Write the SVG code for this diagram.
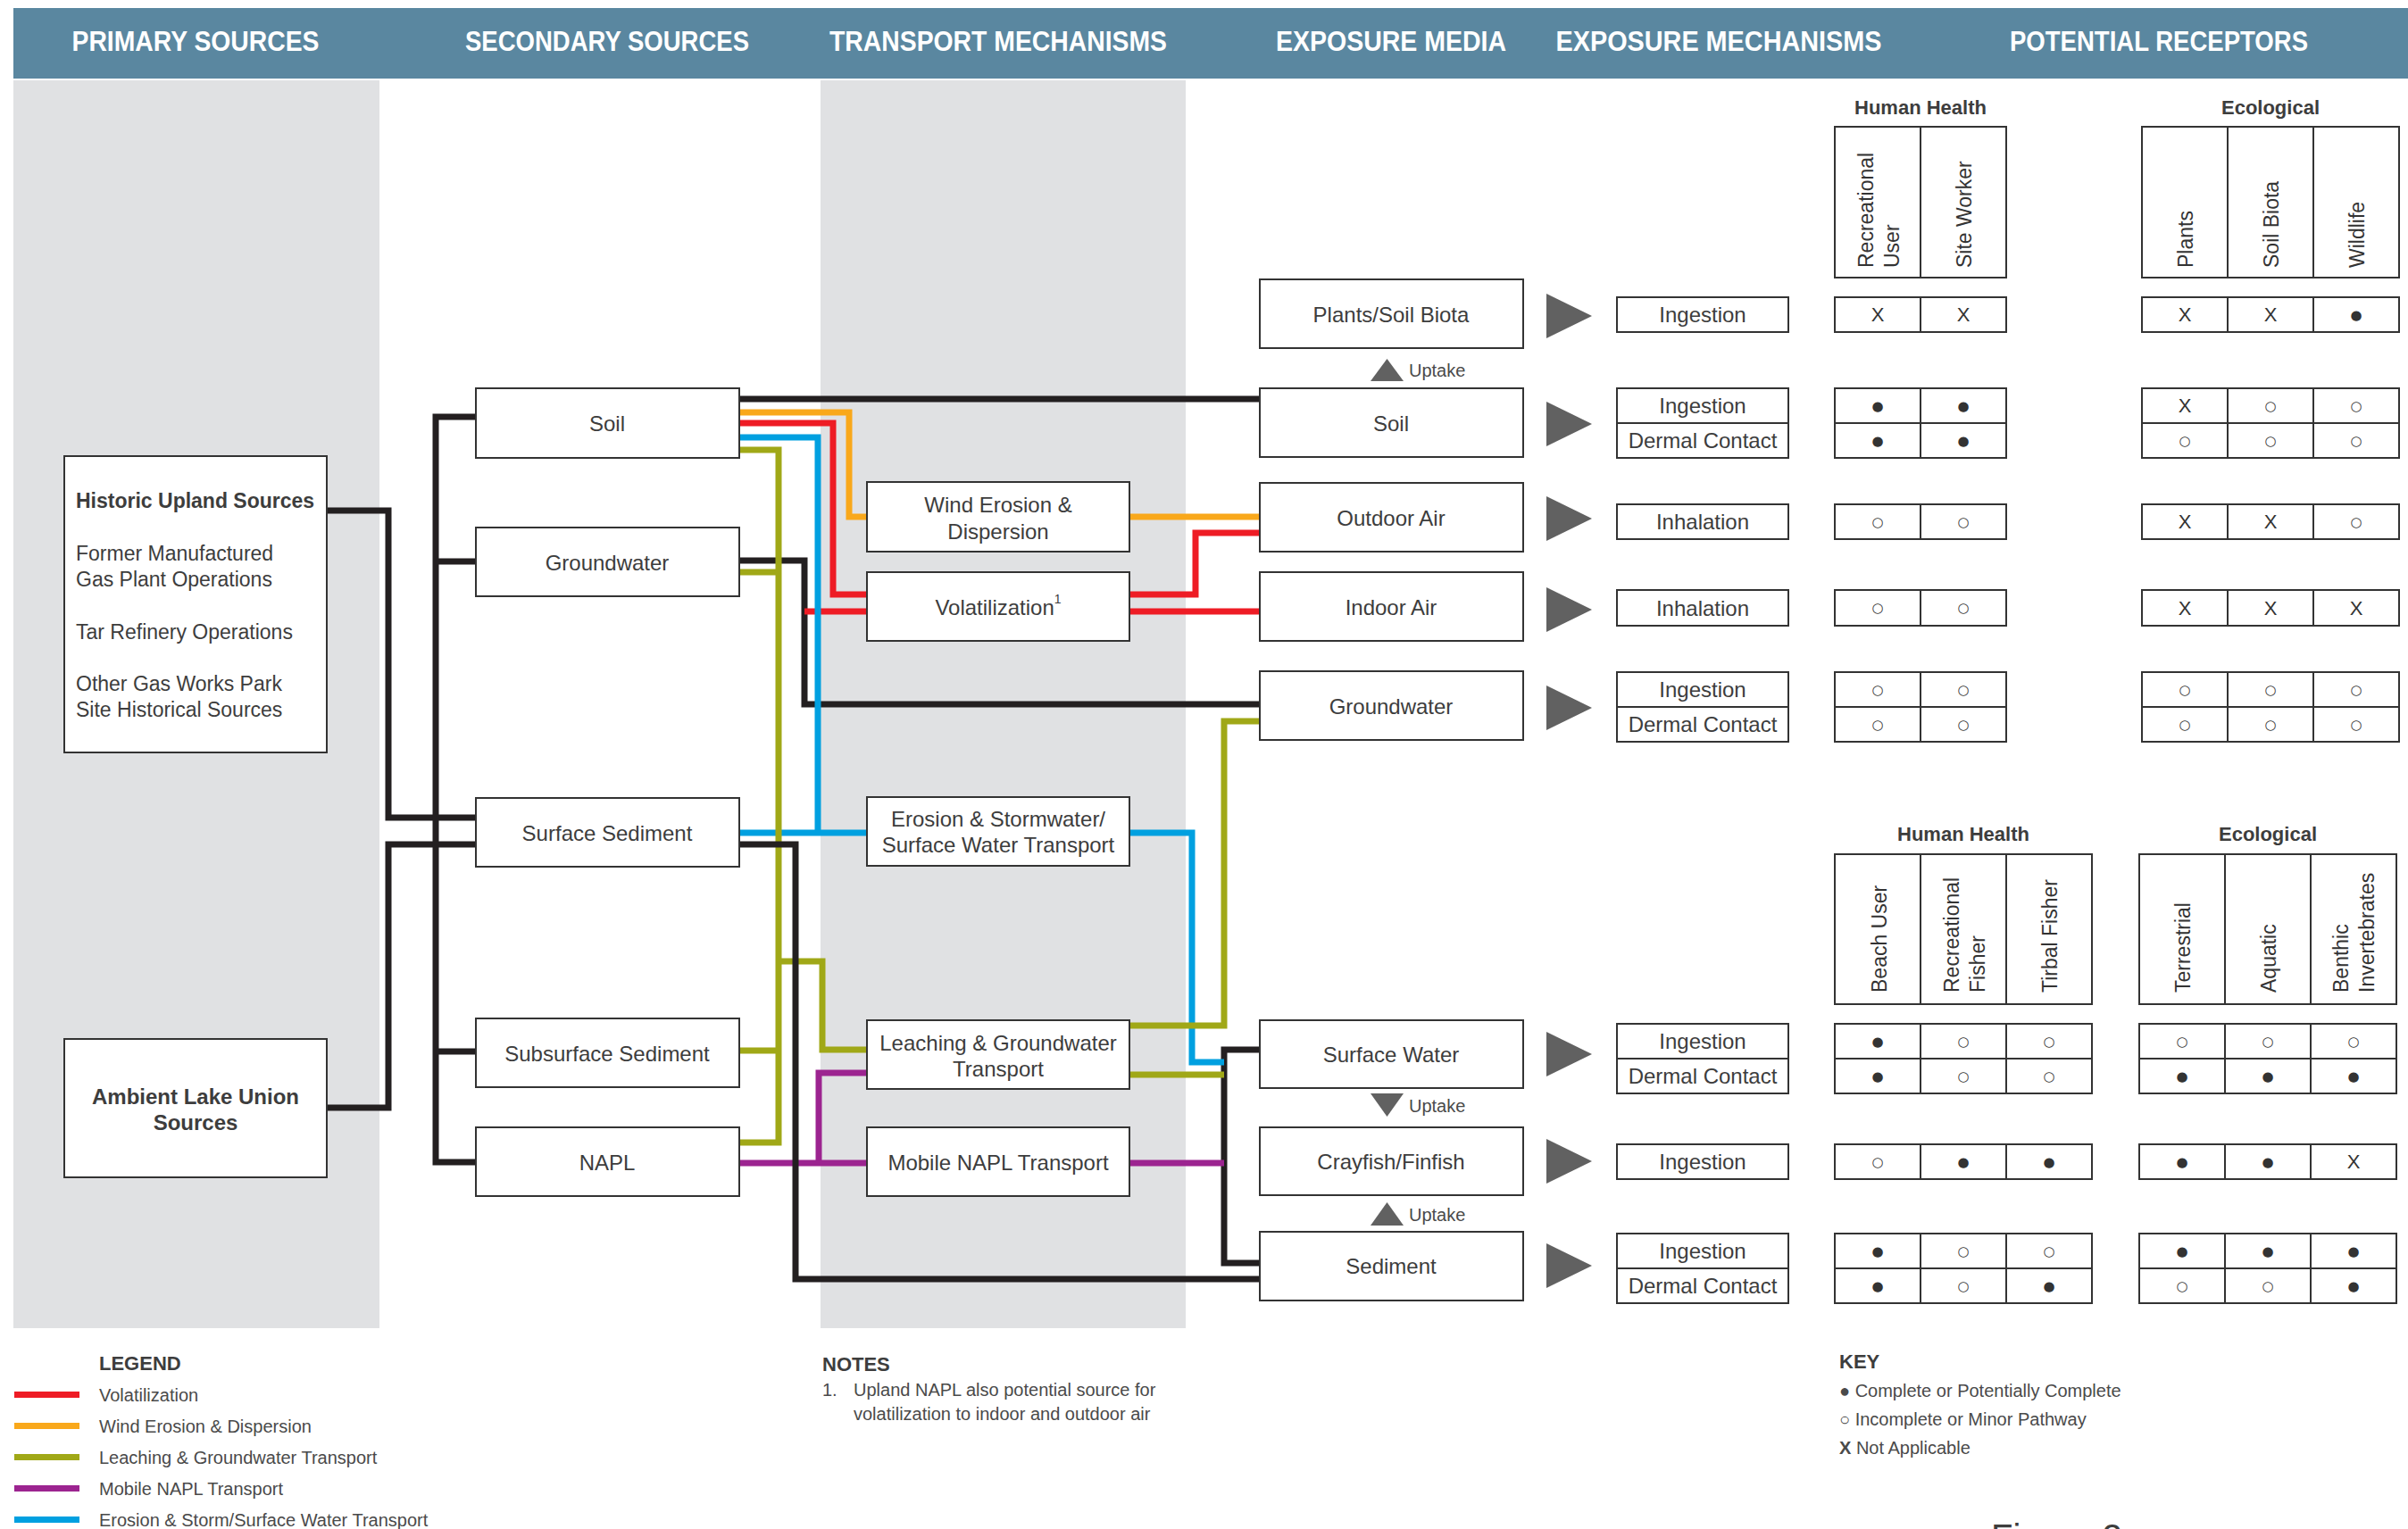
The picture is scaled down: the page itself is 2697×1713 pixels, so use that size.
<svg xmlns="http://www.w3.org/2000/svg" width="2697" height="1713" viewBox="0 0 2697 1713">
<style>
.hdr{fill:#fff;font-family:"Liberation Sans",Arial,sans-serif;font-weight:bold;font-size:32px;text-anchor:middle;dominant-baseline:central}
.box{fill:#fff;stroke:#333;stroke-width:2}
.ln{stroke:#333;stroke-width:2;fill:none}
.t{font-family:"Liberation Sans",Arial,sans-serif;fill:#3d3d3d;font-size:24px;text-anchor:middle;dominant-baseline:central}
.tl{font-family:"Liberation Sans",Arial,sans-serif;fill:#3d3d3d;font-size:23px;dominant-baseline:central}
.b{font-weight:bold}
.rot{font-family:"Liberation Sans",Arial,sans-serif;fill:#333;font-size:23px;dominant-baseline:central}
.mk{font-family:"DejaVu Sans","Liberation Sans",sans-serif;fill:#333;font-size:15px;text-anchor:middle;dominant-baseline:central}
.mx{font-family:"Liberation Sans",Arial,sans-serif;fill:#333;font-size:22px;text-anchor:middle;dominant-baseline:central}
.ttl{font-family:"Liberation Sans",Arial,sans-serif;fill:#3d3d3d;font-size:22px;font-weight:bold;text-anchor:middle;dominant-baseline:central}
.lg{font-family:"Liberation Sans",Arial,sans-serif;fill:#4a4a4a;font-size:20px;dominant-baseline:central}
.lgh{font-family:"Liberation Sans",Arial,sans-serif;fill:#3d3d3d;font-size:22px;font-weight:bold;dominant-baseline:central}
.tri{fill:#616161}
.c{fill:none;stroke-width:7;stroke-linejoin:miter;stroke-linecap:butt}
.k{stroke:#231f20}.r{stroke:#ee1c25}.o{stroke:#f9a81b}.g{stroke:#a0a817}.p{stroke:#9c2490}.bl{stroke:#00a0e0}
</style>
<defs>
<path id="arr" d="M0,-25 L51,0 L0,25 Z" fill="#616161"/>
</defs>
<rect width="2697" height="1713" fill="#fff"/>
<!-- header -->
<rect x="15" y="9" width="2682" height="79" fill="#5a87a0"/>
<text class="hdr" x="219" y="46" textLength="277" lengthAdjust="spacingAndGlyphs">PRIMARY SOURCES</text>
<text class="hdr" x="680" y="46" textLength="318" lengthAdjust="spacingAndGlyphs">SECONDARY SOURCES</text>
<text class="hdr" x="1118" y="46" textLength="378" lengthAdjust="spacingAndGlyphs">TRANSPORT MECHANISMS</text>
<text class="hdr" x="1558" y="46" textLength="258" lengthAdjust="spacingAndGlyphs">EXPOSURE MEDIA</text>
<text class="hdr" x="1925" y="46" textLength="365" lengthAdjust="spacingAndGlyphs">EXPOSURE MECHANISMS</text>
<text class="hdr" x="2418" y="46" textLength="334" lengthAdjust="spacingAndGlyphs">POTENTIAL RECEPTORS</text>
<!-- grey columns -->
<rect x="15" y="90" width="410" height="1398" fill="#e0e1e3"/>
<rect x="919" y="90" width="409" height="1398" fill="#e0e1e3"/>

<g id="connectors">
<path class="c k" d="M366,572 H435 V916 H533"/>
<path class="c k" d="M366,1241 H435 V946 H533"/>
<path class="c k" d="M533,467 H488 V1302 H533 M488,629 H533 M488,1178 H533"/>
<path class="c k" d="M828,447 H1411"/>
<path class="c k" d="M828,628 H901 V789 H1411"/>
<path class="c k" d="M1411,1176 H1371 V1415 H1411"/>
<path class="c r" d="M828,474 H933 V666 H971 M901,685 H971 M1265,666 H1339 V597 H1411 M1265,685 H1411"/>
<path class="c o" d="M828,462 H951 V579 H971 M1265,579 H1411"/>
<path class="c bl" d="M828,490 H916 V933 M828,933 H971 M1265,933 H1335 V1190 H1371"/>
<path class="c p" d="M828,1303 H971 M917,1303 V1202 H971 M1265,1303 H1371"/>
<path class="c g" d="M828,504 H872 V1280 H828 M828,641 H872 M828,1177 H872 M872,1077 H921 V1176 H971 M1265,1149 H1371 V808 H1411 M1265,1204 H1371"/>
<path class="c k" d="M828,946 H891 V1433 H1411"/>
</g>

<g id="historic-upland-sources">
<rect class="box" x="72" y="511" width="294" height="332"/>
<text class="tl b" x="85" y="561">Historic Upland Sources</text>
<text class="tl" x="85" y="620">Former Manufactured</text>
<text class="tl" x="85" y="649">Gas Plant Operations</text>
<text class="tl" x="85" y="708">Tar Refinery Operations</text>
<text class="tl" x="85" y="766">Other Gas Works Park</text>
<text class="tl" x="85" y="795">Site Historical Sources</text>
</g>
<g id="ambient-lake-union-sources">
<rect class="box" x="72" y="1164" width="294" height="155"/>
<text class="t b" x="219" y="1228">Ambient Lake Union</text>
<text class="t b" x="219" y="1257">Sources</text>
</g>

<g id="sec-soil"><rect class="box" x="533" y="435" width="295" height="78"/><text class="t" x="680" y="474">Soil</text></g>
<g id="sec-groundwater"><rect class="box" x="533" y="591" width="295" height="77"/><text class="t" x="680" y="630">Groundwater</text></g>
<g id="sec-surface-sediment"><rect class="box" x="533" y="894" width="295" height="77"/><text class="t" x="680" y="933">Surface Sediment</text></g>
<g id="sec-subsurface-sediment"><rect class="box" x="533" y="1141" width="295" height="77"/><text class="t" x="680" y="1180">Subsurface Sediment</text></g>
<g id="sec-napl"><rect class="box" x="533" y="1263" width="295" height="77"/><text class="t" x="680" y="1302">NAPL</text></g>

<g id="tr-wind"><rect class="box" x="971" y="540" width="294" height="78"/><text class="t" x="1118" y="565">Wind Erosion &amp;</text><text class="t" x="1118" y="595">Dispersion</text></g>
<g id="tr-volatilization"><rect class="box" x="971" y="641" width="294" height="77"/><text class="t" x="1118" y="680">Volatilization<tspan font-size="14" dy="-9">1</tspan></text></g>
<g id="tr-erosion"><rect class="box" x="971" y="893" width="294" height="77"/><text class="t" x="1118" y="917">Erosion &amp; Stormwater/</text><text class="t" x="1118" y="946">Surface Water Transport</text></g>
<g id="tr-leaching"><rect class="box" x="971" y="1143" width="294" height="77"/><text class="t" x="1118" y="1168">Leaching &amp; Groundwater</text><text class="t" x="1118" y="1197">Transport</text></g>
<g id="tr-mobile-napl"><rect class="box" x="971" y="1263" width="294" height="77"/><text class="t" x="1118" y="1302">Mobile NAPL Transport</text></g>

<g id="em-plants"><rect class="box" x="1411" y="313" width="295" height="77"/><text class="t" x="1558" y="352">Plants/Soil Biota</text></g>
<g id="em-soil"><rect class="box" x="1411" y="435" width="295" height="77"/><text class="t" x="1558" y="474">Soil</text></g>
<g id="em-outdoor-air"><rect class="box" x="1411" y="541" width="295" height="77"/><text class="t" x="1558" y="580">Outdoor Air</text></g>
<g id="em-indoor-air"><rect class="box" x="1411" y="641" width="295" height="77"/><text class="t" x="1558" y="680">Indoor Air</text></g>
<g id="em-groundwater"><rect class="box" x="1411" y="752" width="295" height="77"/><text class="t" x="1558" y="791">Groundwater</text></g>
<g id="em-surface-water"><rect class="box" x="1411" y="1143" width="295" height="76"/><text class="t" x="1558" y="1181">Surface Water</text></g>
<g id="em-crayfish"><rect class="box" x="1411" y="1263" width="295" height="76"/><text class="t" x="1558" y="1301">Crayfish/Finfish</text></g>
<g id="em-sediment"><rect class="box" x="1411" y="1380" width="295" height="77"/><text class="t" x="1558" y="1418">Sediment</text></g>

<g id="uptake">
<path class="tri" d="M1535,427 L1572,427 L1553.5,402 Z"/><text class="lg" x="1578" y="415">Uptake</text>
<path class="tri" d="M1535,1225 L1572,1225 L1553.5,1251 Z"/><text class="lg" x="1578" y="1239">Uptake</text>
<path class="tri" d="M1535,1373 L1572,1373 L1553.5,1347 Z"/><text class="lg" x="1578" y="1361">Uptake</text>
</g>

<g id="arrows">
<use href="#arr" x="1732" y="354"/>
<use href="#arr" x="1732" y="475"/>
<use href="#arr" x="1732" y="581"/>
<use href="#arr" x="1732" y="683"/>
<use href="#arr" x="1732" y="793"/>
<use href="#arr" x="1732" y="1181"/>
<use href="#arr" x="1732" y="1301"/>
<use href="#arr" x="1732" y="1418"/>
</g>

<g id="exposure-mechanisms">
<rect class="box" x="1811" y="333" width="192" height="39"/><text class="t" x="1907" y="352.5">Ingestion</text>
<rect class="box" x="1811" y="435" width="192" height="78"/><path class="ln" d="M1811,474 H2003"/><text class="t" x="1907" y="454.5">Ingestion</text><text class="t" x="1907" y="493.5">Dermal Contact</text>
<rect class="box" x="1811" y="565" width="192" height="39"/><text class="t" x="1907" y="584.5">Inhalation</text>
<rect class="box" x="1811" y="661" width="192" height="40"/><text class="t" x="1907" y="681">Inhalation</text>
<rect class="box" x="1811" y="753" width="192" height="78"/><path class="ln" d="M1811,792 H2003"/><text class="t" x="1907" y="772.5">Ingestion</text><text class="t" x="1907" y="811.5">Dermal Contact</text>
<rect class="box" x="1811" y="1147" width="192" height="78"/><path class="ln" d="M1811,1186 H2003"/><text class="t" x="1907" y="1166.5">Ingestion</text><text class="t" x="1907" y="1205.5">Dermal Contact</text>
<rect class="box" x="1811" y="1282" width="192" height="39"/><text class="t" x="1907" y="1301.5">Ingestion</text>
<rect class="box" x="1811" y="1382" width="192" height="78"/><path class="ln" d="M1811,1421 H2003"/><text class="t" x="1907" y="1401.5">Ingestion</text><text class="t" x="1907" y="1440.5">Dermal Contact</text>
</g>

<g id="receptors-upper">
<text class="ttl" x="2151" y="120">Human Health</text>
<text class="ttl" x="2543" y="120">Ecological</text>
<rect class="box" x="2055" y="142" width="192" height="169"/><path class="ln" d="M2151,142 V311"/>
<rect class="box" x="2399" y="142" width="288" height="169"/><path class="ln" d="M2495,142 V311 M2591,142 V311"/>
<text class="rot" transform="translate(2090,300) rotate(-90)">Recreational</text>
<text class="rot" transform="translate(2119,300) rotate(-90)">User</text>
<text class="rot" transform="translate(2200,300) rotate(-90)">Site Worker</text>
<text class="rot" transform="translate(2448,300) rotate(-90)">Plants</text>
<text class="rot" transform="translate(2544,300) rotate(-90)">Soil Biota</text>
<text class="rot" transform="translate(2640,300) rotate(-90)">Wildlife</text>
<!-- grids -->
<path class="ln" d="M2055,333 H2247 V372 H2055 Z M2151,333 V372"/>
<path class="ln" d="M2399,333 H2687 V372 H2399 Z M2495,333 V372 M2591,333 V372"/>
<path class="ln" d="M2055,435 H2247 V513 H2055 Z M2151,435 V513 M2055,474 H2247"/>
<path class="ln" d="M2399,435 H2687 V513 H2399 Z M2495,435 V513 M2591,435 V513 M2399,474 H2687"/>
<path class="ln" d="M2055,565 H2247 V604 H2055 Z M2151,565 V604"/>
<path class="ln" d="M2399,565 H2687 V604 H2399 Z M2495,565 V604 M2591,565 V604"/>
<path class="ln" d="M2055,661 H2247 V701 H2055 Z M2151,661 V701"/>
<path class="ln" d="M2399,661 H2687 V701 H2399 Z M2495,661 V701 M2591,661 V701"/>
<path class="ln" d="M2055,753 H2247 V831 H2055 Z M2151,753 V831 M2055,792 H2247"/>
<path class="ln" d="M2399,753 H2687 V831 H2399 Z M2495,753 V831 M2591,753 V831 M2399,792 H2687"/>
<!-- row 1 -->
<text class="mx" x="2103" y="352.5">X</text><text class="mx" x="2199" y="352.5">X</text>
<text class="mx" x="2447" y="352.5">X</text><text class="mx" x="2543" y="352.5">X</text><text class="mk" x="2639" y="352.5">●</text>
<!-- row 2 -->
<text class="mk" x="2103" y="454.5">●</text><text class="mk" x="2199" y="454.5">●</text>
<text class="mx" x="2447" y="454.5">X</text><text class="mk" x="2543" y="454.5">○</text><text class="mk" x="2639" y="454.5">○</text>
<text class="mk" x="2103" y="493.5">●</text><text class="mk" x="2199" y="493.5">●</text>
<text class="mk" x="2447" y="493.5">○</text><text class="mk" x="2543" y="493.5">○</text><text class="mk" x="2639" y="493.5">○</text>
<!-- row 3 -->
<text class="mk" x="2103" y="584.5">○</text><text class="mk" x="2199" y="584.5">○</text>
<text class="mx" x="2447" y="584.5">X</text><text class="mx" x="2543" y="584.5">X</text><text class="mk" x="2639" y="584.5">○</text>
<!-- row 4 -->
<text class="mk" x="2103" y="681">○</text><text class="mk" x="2199" y="681">○</text>
<text class="mx" x="2447" y="681">X</text><text class="mx" x="2543" y="681">X</text><text class="mx" x="2639" y="681">X</text>
<!-- row 5 -->
<text class="mk" x="2103" y="772.5">○</text><text class="mk" x="2199" y="772.5">○</text>
<text class="mk" x="2447" y="772.5">○</text><text class="mk" x="2543" y="772.5">○</text><text class="mk" x="2639" y="772.5">○</text>
<text class="mk" x="2103" y="811.5">○</text><text class="mk" x="2199" y="811.5">○</text>
<text class="mk" x="2447" y="811.5">○</text><text class="mk" x="2543" y="811.5">○</text><text class="mk" x="2639" y="811.5">○</text>
</g>

<g id="receptors-lower">
<text class="ttl" x="2199" y="934">Human Health</text>
<text class="ttl" x="2540" y="934">Ecological</text>
<rect class="box" x="2055" y="957" width="288" height="168"/><path class="ln" d="M2151,957 V1125 M2247,957 V1125"/>
<rect class="box" x="2396" y="957" width="288" height="168"/><path class="ln" d="M2492,957 V1125 M2588,957 V1125"/>
<text class="rot" transform="translate(2105,1112) rotate(-90)">Beach User</text>
<text class="rot" transform="translate(2186,1112) rotate(-90)">Recreational</text>
<text class="rot" transform="translate(2215,1112) rotate(-90)">Fisher</text>
<text class="rot" transform="translate(2296,1112) rotate(-90)">Tirbal Fisher</text>
<text class="rot" transform="translate(2445,1112) rotate(-90)">Terrestrial</text>
<text class="rot" transform="translate(2541,1112) rotate(-90)">Aquatic</text>
<text class="rot" transform="translate(2622,1112) rotate(-90)">Benthic</text>
<text class="rot" transform="translate(2651,1112) rotate(-90)">Invertebrates</text>
<path class="ln" d="M2055,1147 H2343 V1225 H2055 Z M2151,1147 V1225 M2247,1147 V1225 M2055,1186 H2343"/>
<path class="ln" d="M2396,1147 H2684 V1225 H2396 Z M2492,1147 V1225 M2588,1147 V1225 M2396,1186 H2684"/>
<path class="ln" d="M2055,1282 H2343 V1321 H2055 Z M2151,1282 V1321 M2247,1282 V1321"/>
<path class="ln" d="M2396,1282 H2684 V1321 H2396 Z M2492,1282 V1321 M2588,1282 V1321"/>
<path class="ln" d="M2055,1382 H2343 V1460 H2055 Z M2151,1382 V1460 M2247,1382 V1460 M2055,1421 H2343"/>
<path class="ln" d="M2396,1382 H2684 V1460 H2396 Z M2492,1382 V1460 M2588,1382 V1460 M2396,1421 H2684"/>
<!-- SW -->
<text class="mk" x="2103" y="1166.5">●</text><text class="mk" x="2199" y="1166.5">○</text><text class="mk" x="2295" y="1166.5">○</text>
<text class="mk" x="2444" y="1166.5">○</text><text class="mk" x="2540" y="1166.5">○</text><text class="mk" x="2636" y="1166.5">○</text>
<text class="mk" x="2103" y="1205.5">●</text><text class="mk" x="2199" y="1205.5">○</text><text class="mk" x="2295" y="1205.5">○</text>
<text class="mk" x="2444" y="1205.5">●</text><text class="mk" x="2540" y="1205.5">●</text><text class="mk" x="2636" y="1205.5">●</text>
<!-- Crayfish -->
<text class="mk" x="2103" y="1301.5">○</text><text class="mk" x="2199" y="1301.5">●</text><text class="mk" x="2295" y="1301.5">●</text>
<text class="mk" x="2444" y="1301.5">●</text><text class="mk" x="2540" y="1301.5">●</text><text class="mx" x="2636" y="1301.5">X</text>
<!-- Sediment -->
<text class="mk" x="2103" y="1401.5">●</text><text class="mk" x="2199" y="1401.5">○</text><text class="mk" x="2295" y="1401.5">○</text>
<text class="mk" x="2444" y="1401.5">●</text><text class="mk" x="2540" y="1401.5">●</text><text class="mk" x="2636" y="1401.5">●</text>
<text class="mk" x="2103" y="1440.5">●</text><text class="mk" x="2199" y="1440.5">○</text><text class="mk" x="2295" y="1440.5">●</text>
<text class="mk" x="2444" y="1440.5">○</text><text class="mk" x="2540" y="1440.5">○</text><text class="mk" x="2636" y="1440.5">●</text>
</g>

<g id="legend">
<text class="lgh" x="111" y="1527">LEGEND</text>
<rect x="16" y="1559" width="73" height="7" fill="#ee1c25"/><text class="lg" x="111" y="1563">Volatilization</text>
<rect x="16" y="1594" width="73" height="7" fill="#f9a81b"/><text class="lg" x="111" y="1598">Wind Erosion &amp; Dispersion</text>
<rect x="16" y="1629" width="73" height="7" fill="#a0a817"/><text class="lg" x="111" y="1633">Leaching &amp; Groundwater Transport</text>
<rect x="16" y="1664" width="73" height="7" fill="#9c2490"/><text class="lg" x="111" y="1668">Mobile NAPL Transport</text>
<rect x="16" y="1699" width="73" height="7" fill="#00a0e0"/><text class="lg" x="111" y="1703">Erosion &amp; Storm/Surface Water Transport</text>
</g>
<g id="notes">
<text class="lgh" x="921" y="1528">NOTES</text>
<text class="lg" x="921" y="1557">1.</text>
<text class="lg" x="956" y="1557">Upland NAPL also potential source for</text>
<text class="lg" x="956" y="1584">volatilization to indoor and outdoor air</text>
</g>
<g id="key">
<text class="lgh" x="2060" y="1525">KEY</text>
<text class="lg" x="2060" y="1558">● Complete or Potentially Complete</text>
<text class="lg" x="2060" y="1590">○ Incomplete or Minor Pathway</text>
<text class="lg" x="2060" y="1622"><tspan font-weight="bold">X</tspan> Not Applicable</text>
</g>
<text x="2230" y="1736" font-family="Liberation Sans, Arial, sans-serif" font-size="40" fill="#3d3d3d">Figure 2</text>
</svg>
